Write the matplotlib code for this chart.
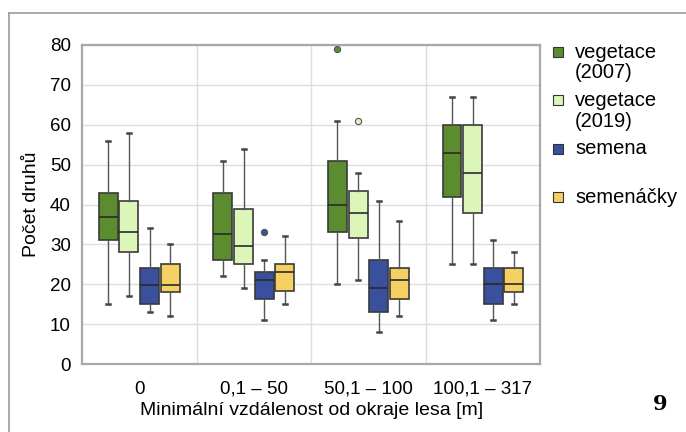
import matplotlib.pyplot as plt
from matplotlib.patches import Rectangle
from matplotlib.lines import Line2D

plt.rcParams['font.family'] = ['Liberation Sans', 'DejaVu Sans']

categories = ["0", "0,1 – 50", "50,1 – 100", "100,1 – 317"]
series = ["vegetace\n(2007)", "vegetace\n(2019)", "semena", "semenáčky"]
colors = ["#5b8c2f", "#dcf5b8", "#3a509e", "#f5d063"]

# per series: one tuple per category (whislo, q1, med, q3, whishi, fliers)
veg2007 = [(15, 31, 37, 43, 56, []),
           (22, 26, 32.5, 43, 51, []),
           (20, 33, 40, 51, 61, [79]),
           (25, 42, 53, 60, 67, [])]
veg2019 = [(17, 28, 33, 41, 58, []),
           (19, 25, 29.5, 39, 54, []),
           (21, 31.5, 38, 43.3, 48, [61]),
           (25, 38, 48, 60, 67, [])]
semena = [(13, 15, 19.8, 24, 34, []),
          (11, 16.3, 21, 23, 26, [33]),
          (8, 13, 19, 26, 41, []),
          (11, 15, 20, 24, 31, [])]
semenacky = [(12, 18, 19.8, 25, 30, []),
             (15, 18.3, 23.2, 25, 32, []),
             (12, 16.3, 21.2, 24.2, 36, []),
             (15, 18, 20.2, 24, 28, [])]
data = [veg2007, veg2019, semena, semenacky]

offsets = [-0.27, -0.09, 0.09, 0.27]

fig = plt.figure(figsize=(6.86, 4.32), dpi=100)
ax = fig.add_axes([0.1195, 0.157, 0.668, 0.739])

for s, rows in enumerate(data):
    stats = []
    for lo, q1, med, q3, hi, fl in rows:
        stats.append(dict(whislo=lo, q1=q1, med=med, q3=q3, whishi=hi, fliers=fl))
    pos = [i + offsets[s] for i in range(len(categories))]
    ax.bxp(stats, positions=pos, widths=0.165, patch_artist=True,
           showcaps=True, manage_ticks=False,
           boxprops=dict(facecolor=colors[s], edgecolor="#3a3a3a", linewidth=1.2),
           medianprops=dict(color="#2a2a2a", linewidth=1.2),
           whiskerprops=dict(color="#555555", linewidth=1.0),
           capprops=dict(color="#444444", linewidth=1.8),
           capwidths=0.035,
           flierprops=dict(marker="o", markerfacecolor=colors[s],
                           markeredgecolor="#555555", markersize=4.5,
                           markeredgewidth=0.8))

ax.set_xlim(-0.5, 3.5)
ax.set_ylim(0, 80)
ax.set_yticks(range(0, 81, 10))
ax.set_xticks(range(len(categories)))
ax.set_xticklabels(categories)
ax.tick_params(length=0, labelsize=13.5)
ax.tick_params(axis="x", pad=12)
ax.tick_params(axis="y", pad=8)
for y in range(10, 81, 10):
    ax.axhline(y, color="#dddddd", linewidth=1.0, zorder=0)
for x in [0.5, 1.5, 2.5]:
    ax.axvline(x, color="#dddddd", linewidth=1.0, zorder=0)
for sp in ax.spines.values():
    sp.set_color("#a8a8a8")
    sp.set_linewidth(1.6)

ax.set_xlabel("Minimální vzdálenost od okraje lesa [m]", fontsize=14, labelpad=3)
ax.set_ylabel("Počet druhů", fontsize=14, labelpad=7)

# legend drawn by hand to keep the uneven spacing of the original
W, H = 686, 432
legend_y = [52, 100, 149, 197]
for s, lab in enumerate(series):
    yc = 1 - legend_y[s] / H
    fig.add_artist(Rectangle((553 / W, yc - 5 / H), 10 / W, 10 / H,
                             transform=fig.transFigure, facecolor=colors[s],
                             edgecolor="#333333", linewidth=0.8))
    for k, line in enumerate(lab.split("\n")):
        fig.text(575 / W, yc - k * 21 / H, line, fontsize=14.5,
                 va="center", ha="left")

# outer frame (top and left edge visible)
fig.add_artist(Line2D([9 / W, 1], [1 - 13 / H, 1 - 13 / H],
                      transform=fig.transFigure, color="#999999", linewidth=1.2))
fig.add_artist(Line2D([9 / W, 9 / W], [0, 1 - 13 / H],
                      transform=fig.transFigure, color="#999999", linewidth=1.2))

fig.text(660 / W, 1 - 404 / H, "9", fontsize=15, fontweight="bold",
         family="DejaVu Serif", ha="center", va="center")

fig.savefig("out.png", dpi=100)
